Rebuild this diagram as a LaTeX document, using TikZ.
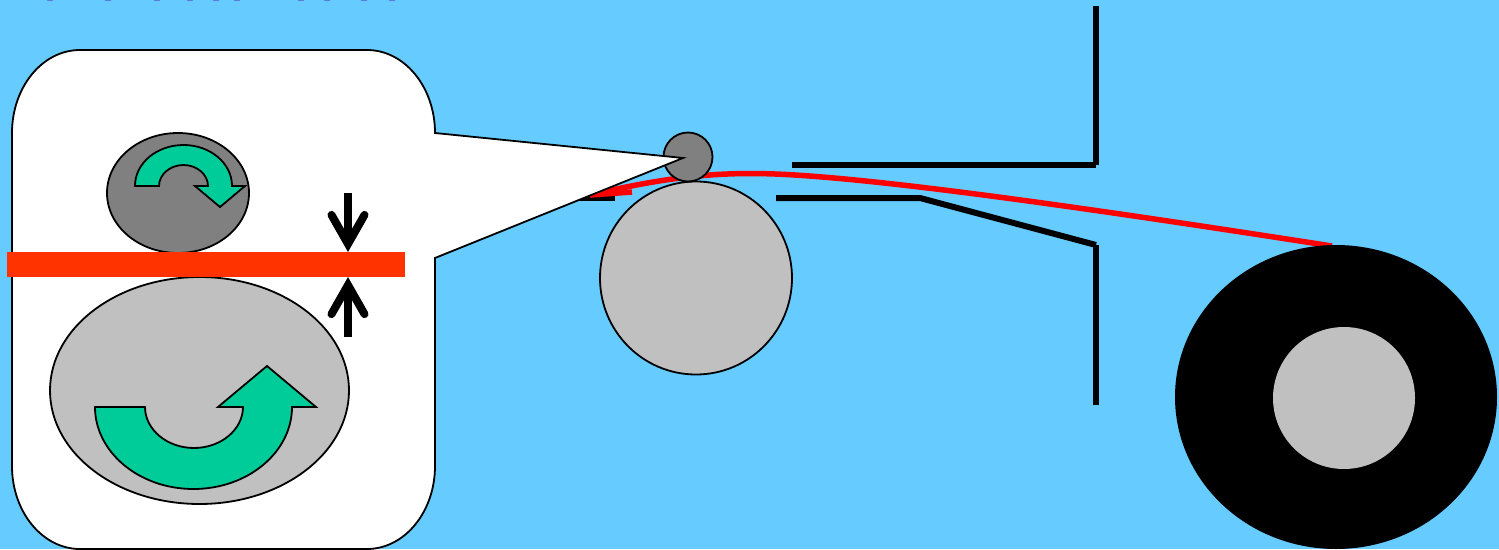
\documentclass[tikz,border=0pt]{standalone}
\usepackage{xcolor}
\usepackage{tikz}
\usetikzlibrary{arrows.meta,positioning,shapes.geometric}
\definecolor{skyback}{RGB}{102,204,255}
\definecolor{rollerlight}{RGB}{192,192,192}
\definecolor{rollerdark}{RGB}{128,128,128}
\definecolor{turngreen}{RGB}{0,204,153}
\definecolor{webred}{RGB}{255,0,0}
\definecolor{bandred}{RGB}{255,51,0}
\definecolor{cutblue}{RGB}{90,125,220}

\begin{document}
\begin{tikzpicture}[x=1pt, y=-1pt,
    roller/.style={draw=black, line width=1.8pt, ellipse, inner sep=0pt, outer sep=0pt},
    guide/.style={draw=black, line width=6pt},
    turnarrow/.style={draw=black, line width=1.8pt, fill=turngreen, line join=miter},
    gaparrow/.style={draw=black, line width=8pt, -{Straight Barb[length=29pt, width=33pt, line cap=round]}}]
  \useasboundingbox (0,0) rectangle (1499,549);
  \fill[skyback] (0,0) rectangle (1499,549);
  \foreach \px in {50,108,157,190,216,237,301,327,364,392}
    \fill[cutblue] (\px,0) ellipse [x radius=3.5pt, y radius=1.1pt];
  % guides around the web
  \coordinate (ga) at (792,165);
  \coordinate (gb) at (1096,165);
  \coordinate (gc) at (1096,6);
  \coordinate (gd) at (776,198);
  \coordinate (ge) at (920,198);
  \coordinate (gf) at (1096,245);
  \coordinate (gg) at (1096,405);
  \coordinate (gh) at (575,198);
  \coordinate (gi) at (615,198);
  \draw[guide] (ga) -- (gb);
  \draw[guide] (gb) -- (gc);
  \draw[guide] (gd) -- (ge) -- (gf);
  \draw[guide] (gf) -- (gg);
  \draw[guide] (gh) -- (gi);
  % web, rollers and reel
  \coordinate (webend) at (590,195);
  \coordinate (webstub) at (632,192);
  \coordinate (webreel) at (1332,246);
  \draw[webred, line width=5.5pt] (webstub) -- (webend);
  \draw[webred, line width=5.5pt] (webend) .. controls (670,176) and (720,172) .. (775,174) .. controls (880,178) and (1100,210) .. (webreel);
  \node[roller, draw=none, fill=black, minimum width=322pt, minimum height=304pt] (reel) at (1336,397) {};
  \node[roller, draw=none, fill=rollerlight, minimum width=142pt, minimum height=142pt] (hub) at (1344,398) {};
  \node[roller, fill=rollerlight, minimum width=192pt, minimum height=193pt] (bigroll) at (696,278) {};
  \node[roller, fill=rollerdark, minimum width=49pt, minimum height=49pt] (smallroll) at (688,157) {};
  % callout
  \draw[black, fill=white, line width=1.8pt] (80,50) -- (367,50) .. controls (404.5,50) and (435,87) .. (435,133)
    -- (683,158) -- (435,258) -- (435,466) .. controls (435,512) and (404.5,549) .. (367,549)
    -- (80,549) .. controls (42.5,549) and (12,512) .. (12,466) -- (12,133) .. controls (12,87) and (42.5,50) .. (80,50) -- cycle;
  \node[roller, fill=rollerdark, minimum width=142pt, minimum height=120pt] (zoomsmall) at (178,193) {};
  \node[roller, fill=rollerlight, minimum width=299pt, minimum height=227pt] (zoombig) at (199.5,390.5) {};
  \fill[bandred] (7,252) rectangle (405,277);
  % rotation arrows
  \draw[turnarrow] (95,407) -- (145,407) .. controls (145,429.5) and (167,448) .. (194,448) .. controls (221,448) and (243,429.5) .. (243,407)
    -- (218,407) -- (267,366) -- (316,407) -- (292,407) .. controls (292,452) and (248,489) .. (193.5,489) .. controls (139,489) and (95,452) .. (95,407) -- cycle;
  \draw[turnarrow] (135,186) -- (159,186) .. controls (159,174.5) and (170,165) .. (183.5,165) .. controls (197,165) and (208,174.5) .. (208,186)
    -- (195,186) -- (220,207) -- (245,186) -- (232,186) .. controls (232,163) and (210,145) .. (183.5,145) .. controls (157,145) and (135,163) .. (135,186) -- cycle;
  % nip arrows
  \coordinate (niptop) at (348,193);
  \coordinate (niptoptip) at (348,252);
  \coordinate (nipbot) at (348,337);
  \coordinate (nipbottip) at (348,277);
  \draw[gaparrow] (niptop) -- (niptoptip);
  \draw[gaparrow] (nipbot) -- (nipbottip);
\end{tikzpicture}
\end{document}
